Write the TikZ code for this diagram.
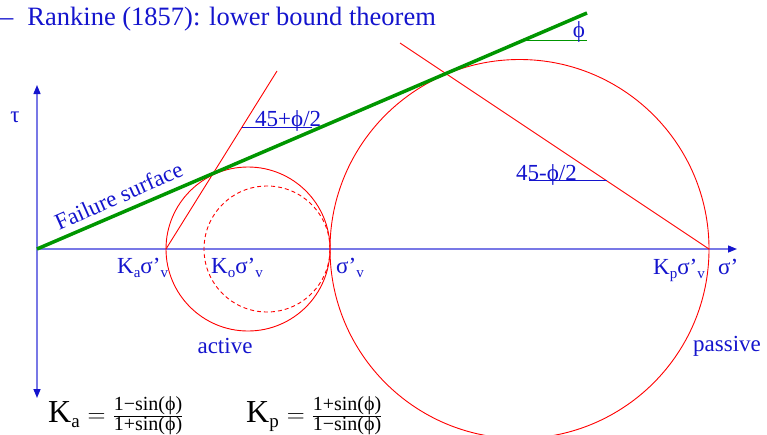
\documentclass[tikz,border=0pt]{standalone}
\usepackage{fontspec}
\setmainfont{Liberation Serif}
\usetikzlibrary{arrows.meta}
\definecolor{tblue}{RGB}{20,20,205}
\definecolor{ablue}{RGB}{120,120,230}
\definecolor{fgreen}{RGB}{0,150,0}
\tikzset{
  lbl/.style={text=tblue,inner sep=0pt,font=\fontsize{23}{26}\selectfont},
  tip/.style={-{Triangle[color=tblue,length=9pt,width=7pt]}},
  axis/.style={ablue,line width=1.4pt},
  mohr/.style={red,line width=0.9pt},
  ang/.style={tblue,line width=0.9pt},
}
\newcommand{\lowsub}[1]{\raisebox{-4pt}{\fontsize{15}{15}\selectfont #1}}

\begin{document}
\begin{tikzpicture}[x=1pt,y=-1pt]
\useasboundingbox (0,0) rectangle (767,434);

\coordinate (O) at (37,249);
\coordinate (T) at (37,85);
\coordinate (B) at (37,398);
\coordinate (S) at (737,249);
\coordinate (Ka) at (166,249);
\coordinate (Sv) at (330,249);
\coordinate (Kp) at (709,249);
\coordinate (F) at (587,13);
\coordinate (Ca) at (248,249);
\coordinate (Co) at (267,249);
\coordinate (Cp) at (519.5,249);
\coordinate (La) at (277,71);
\coordinate (Lp) at (400,43);

% axes
\draw[axis,{Triangle[color=tblue,length=9pt,width=7pt]}-{Triangle[color=tblue,length=9pt,width=7pt]}] (B) -- (T);
\draw[axis,tip] (O) -- (S);

% circles
\draw[mohr] (Ca) circle[radius=82];
\draw[mohr,dash pattern=on 4pt off 3pt] (Co) circle[radius=63];
\draw[mohr] (Cp) circle[radius=189.5];
\draw[mohr] (Ka) -- (La);
\draw[mohr] (Kp) -- (Lp);

% failure surface
\draw[fgreen,line width=3.5pt] (O) -- (F);
\draw[fgreen,line width=1pt] (525,40) -- (F |- 0,40);

% angle marks
\draw[ang] (242,127) -- (312,127);
\draw[ang] (529,180) -- (607,180);

% labels
\node[lbl,anchor=base west] (t) at (0,25) {\fontsize{26.5}{30}\selectfont –\hspace{14pt}Rankine (1857): lower bound theorem};
\node[lbl] (tau) at (15,117) {τ};
\node[lbl,anchor=base west,rotate=24] (fs) at (59,231) {Failure surface};
\node[lbl] (phi) at (579,32) {ϕ};
\node[lbl,anchor=base west] (a1) at (255,126) {45+ϕ/2};
\node[lbl,anchor=base west] (a2) at (516,180) {45-ϕ/2};
\node[lbl,anchor=base west] (ka) at (117,273) {K\lowsub{a}σ’\lowsub{v}};
\node[lbl,anchor=base west] (ko) at (211,273) {K\lowsub{o}σ’\lowsub{v}};
\node[lbl,anchor=base west] (sv) at (336,273) {σ’\lowsub{v}};
\node[lbl,anchor=base west] (kp) at (653,274) {K\lowsub{p}σ’\lowsub{v}};
\node[lbl,anchor=base west] (s) at (718,274) {σ’};
\node[lbl] (act) at (225,346) {active};
\node[lbl] (pas) at (727,346) {passive};

% coefficients
\node[anchor=base west,inner sep=0pt] (fa) at (48,422) {\fontsize{32}{34}\selectfont K\raisebox{-5pt}{\fontsize{19}{19}\selectfont a} $=\frac{\hbox{\fontsize{20}{20}\selectfont 1−sin(ϕ)}}{\hbox{\fontsize{20}{20}\selectfont 1+sin(ϕ)}}$};
\node[anchor=base west,inner sep=0pt] (fp) at (246,422) {\fontsize{32}{34}\selectfont K\raisebox{-5pt}{\fontsize{19}{19}\selectfont p} $=\frac{\hbox{\fontsize{20}{20}\selectfont 1+sin(ϕ)}}{\hbox{\fontsize{20}{20}\selectfont 1−sin(ϕ)}}$};
\end{tikzpicture}
\end{document}
